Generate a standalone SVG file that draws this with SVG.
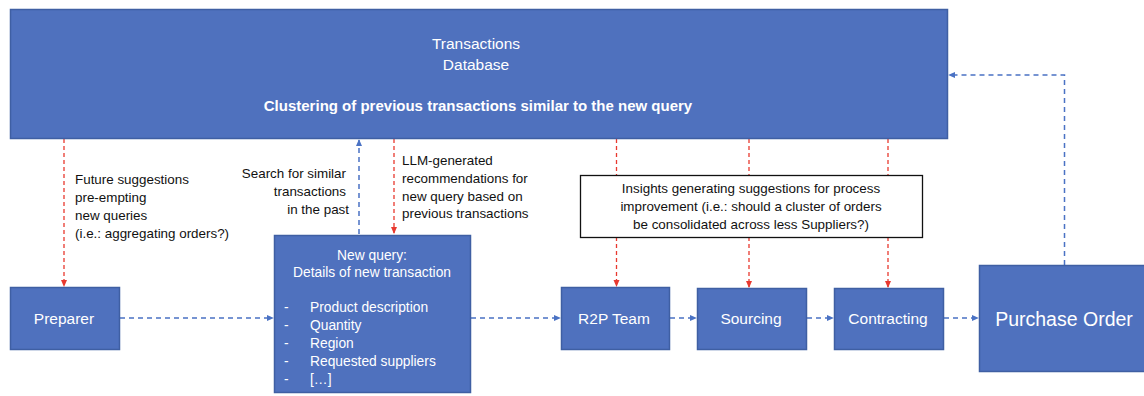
<svg xmlns="http://www.w3.org/2000/svg" width="1144" height="396" viewBox="0 0 1144 396">
<style>
.box{fill:#4F71BE;stroke:#3F5FA3;stroke-width:1.5}
.wt{fill:#fff;font-family:"Liberation Sans",Arial,sans-serif;font-size:13.8px}
.bt{fill:#111;font-family:"Liberation Sans",Arial,sans-serif;font-size:13.4px}
.db{font-size:15.5px}
.lbl{font-size:15.5px}
.red{stroke:#E8392F;stroke-width:1.3;stroke-dasharray:4,3;fill:none}
.blue{stroke:#4A72C4;stroke-width:1.5;stroke-dasharray:5,4;fill:none}
</style>
<defs>
<marker id="ar" viewBox="0 0 8 8" refX="7" refY="4" markerWidth="7" markerHeight="7" orient="auto" markerUnits="userSpaceOnUse"><path d="M0,0.5 L8,4 L0,7.5 z" fill="#E8392F"/></marker>
<marker id="ab" viewBox="0 0 8 8" refX="7" refY="4" markerWidth="7" markerHeight="7" orient="auto" markerUnits="userSpaceOnUse"><path d="M0,0.5 L8,4 L0,7.5 z" fill="#4A72C4"/></marker>
</defs>
<rect width="1144" height="396" fill="#fff"/>
<g id="connectors">
<path class="red" d="M64,139 V286" marker-end="url(#ar)"/>
<path class="blue" d="M359,234 V140" marker-end="url(#ab)"/>
<path class="red" d="M394,139 V233" marker-end="url(#ar)"/>
<path class="red" d="M616.5,139 V286" marker-end="url(#ar)"/>
<path class="red" d="M749,139 V287" marker-end="url(#ar)"/>
<path class="red" d="M888,139 V287" marker-end="url(#ar)"/>
<path class="blue" d="M120,318 H273" marker-end="url(#ab)"/>
<path class="blue" d="M471,318 H560" marker-end="url(#ab)"/>
<path class="blue" d="M670,318 H696" marker-end="url(#ab)"/>
<path class="blue" d="M807,318 H833" marker-end="url(#ab)"/>
<path class="blue" d="M944,318 H978" marker-end="url(#ab)"/>
<path class="blue" d="M1064.5,265 V75 H949" marker-end="url(#ab)"/>
</g>
<g id="labels">
<text class="bt" x="75" y="184">Future suggestions</text>
<text class="bt" x="75" y="202">pre-empting</text>
<text class="bt" x="75" y="220">new queries</text>
<text class="bt" x="75" y="238">(i.e.: aggregating orders?)</text>
<text class="bt" x="346" y="178" text-anchor="end">Search for similar</text>
<text class="bt" x="346" y="196" text-anchor="end">transactions</text>
<text class="bt" x="349" y="214" text-anchor="end">in the past</text>
<text class="bt" x="402" y="165">LLM-generated</text>
<text class="bt" x="402" y="183">recommendations for</text>
<text class="bt" x="402" y="201">new query based on</text>
<text class="bt" x="402" y="218">previous transactions</text>
</g>
<g id="database">
<rect class="box" x="10.5" y="9.5" width="937" height="129"/>
<text class="wt db" x="476" y="49" text-anchor="middle">Transactions</text>
<text class="wt db" x="476" y="70" text-anchor="middle">Database</text>
<text class="wt" x="478" y="111" text-anchor="middle" style="font-weight:bold;font-size:15px">Clustering of previous transactions similar to the new query</text>
</g>
<g id="insights">
<rect x="580.5" y="175.5" width="342" height="62" fill="#fff" stroke="#111" stroke-width="1.3"/>
<text class="bt" x="751" y="193" text-anchor="middle">Insights generating suggestions for process</text>
<text class="bt" x="751" y="211" text-anchor="middle">improvement (i.e.: should a cluster of orders</text>
<text class="bt" x="751" y="229" text-anchor="middle">be consolidated across less Suppliers?)</text>
</g>
<g id="preparer">
<rect class="box" x="10.5" y="287.5" width="109" height="62"/>
<text class="wt lbl" x="64" y="324" text-anchor="middle">Preparer</text>
</g>
<g id="newquery">
<rect class="box" x="274.5" y="235.5" width="196" height="157"/>
<text class="wt" x="372" y="260" text-anchor="middle">New query:</text>
<text class="wt" x="372" y="277" text-anchor="middle">Details of new transaction</text>
<text class="wt" x="284" y="312">-</text><text class="wt" x="310" y="312">Product description</text>
<text class="wt" x="284" y="330">-</text><text class="wt" x="310" y="330">Quantity</text>
<text class="wt" x="284" y="348">-</text><text class="wt" x="310" y="348">Region</text>
<text class="wt" x="284" y="366">-</text><text class="wt" x="310" y="366">Requested suppliers</text>
<text class="wt" x="284" y="384">-</text><text class="wt" x="310" y="384">[…]</text>
</g>
<g id="r2p">
<rect class="box" x="561.5" y="287.5" width="108" height="62"/>
<text class="wt lbl" x="614" y="324" text-anchor="middle">R2P Team</text>
</g>
<g id="sourcing">
<rect class="box" x="697.5" y="288.5" width="109" height="61"/>
<text class="wt lbl" x="751" y="324" text-anchor="middle">Sourcing</text>
</g>
<g id="contracting">
<rect class="box" x="834.5" y="288.5" width="109" height="61"/>
<text class="wt lbl" x="888" y="324" text-anchor="middle">Contracting</text>
</g>
<g id="purchaseorder">
<rect class="box" x="979.5" y="265.5" width="170" height="106"/>
<text class="wt" x="1064" y="326" text-anchor="middle" style="font-size:19.5px">Purchase Order</text>
</g>
</svg>
